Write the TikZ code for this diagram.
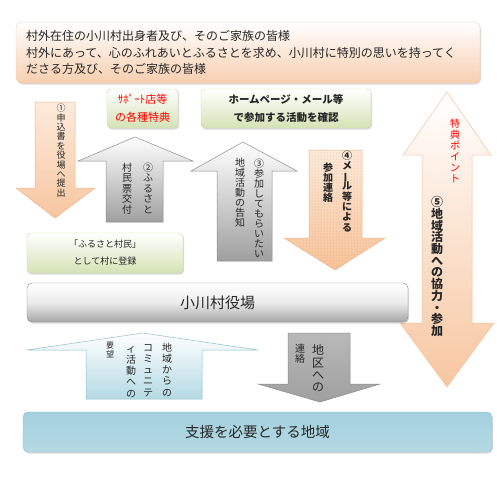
\documentclass[tikz,border=0pt]{standalone}
\usepackage{fontspec}
\usepackage{graphicx}
\setmainfont{Noto Sans CJK JP}
\usetikzlibrary{shadows,patterns}
\definecolor{peach}{HTML}{F7C6A0}
\definecolor{peachL}{HTML}{FDEBDC}
\definecolor{peachB}{HTML}{F0B488}
\definecolor{grnF}{HTML}{D5E3B5}
\definecolor{grnB}{HTML}{C8D8A8}
\definecolor{grayB}{HTML}{8C8C8C}
\definecolor{blueT}{HTML}{A3D0DD}
\definecolor{blueM}{HTML}{E6F3F6}
\definecolor{blueB}{HTML}{B4DAE4}
\definecolor{blueE}{HTML}{8FBFCC}
\definecolor{txt}{HTML}{262626}
\makeatletter
\newcommand\vtxt[2]{\vbox{\baselineskip=#1\lineskip=0pt\lineskiplimit=-100pt
  \@tfor\vt@c:=#2\do{\hbox to 1em{\hss\vrule height .88em depth .12em width 0pt\vt@c\hss}}}}
\makeatother
\newcommand\vchou{\rotatebox[origin=c]{90}{ー}}
\newcommand\fs[1]{\fontsize{#1}{#1}\selectfont}
\begin{document}
\begin{tikzpicture}[x=1pt,y=-1pt,
  every node/.style={inner sep=0pt,text=txt},
  vcol/.style={anchor=north,inner sep=0pt},
  shad/.style={drop shadow={shadow xshift=1pt,shadow yshift=-1.5pt,opacity=0.3}},
  greenbox/.style={draw=grnB,rounded corners=4pt,top color=white,bottom color=grnF,shad,align=center},
  arrpeach/.style={draw=peachB,line width=0.5pt,top color=peachL,bottom color=peach},
  arrgray/.style={draw=grayB,line width=0.5pt,top color=white,bottom color=gray!75},
  arrblue/.style={draw=blueE,line width=0.5pt,top color=white,bottom color=blueB}]
\useasboundingbox (0,0) rectangle (497,480);

% top box
\node[draw=peachB!70,rounded corners=6pt,top color=white,bottom color=peach!85,shad,
  minimum width=464pt,minimum height=61pt,inner xsep=10pt,text width=444pt,align=left,
  font=\fontsize{12}{16.5}\selectfont] (top) at (248,52.5)
  {村外在住の小川村出身者及び、そのご家族の皆様\\村外にあって、心のふれあいとふるさとを求め、小川村に特別の思いを持ってく\\ださる方及び、そのご家族の皆様};

% green boxes
\node[greenbox,minimum width=71pt,minimum height=39pt,text=red,font=\fontsize{11}{18}\selectfont] (sup) at (142.5,108.5) {ｻﾎﾟｰﾄ店等\\の各種特典};
\node[greenbox,minimum width=170pt,minimum height=39pt,font=\bfseries\fontsize{10.5}{17.5}\selectfont] (hp) at (286,108.5) {ホームページ・メール等\\で参加する活動を確認};
\node[greenbox,minimum width=156pt,minimum height=40pt,font=\fontsize{9}{17}\selectfont] (reg) at (105,253) {「ふるさと村民」\\として村に登録};

% arrow 1 (down)
\path[arrpeach] (35,102)--(75,102)--(75,188)--(95,188)--(55,218)--(16,188)--(35,188)--cycle;
% arrow 2 (up)
\path[arrgray] (106,222)--(106,161)--(78,161)--(135,137)--(193,161)--(163,161)--(163,222)--cycle;
% arrow 3 (up)
\path[arrgray] (217,261)--(217,171)--(191,171)--(243,142)--(297,171)--(272,171)--(272,261)--cycle;
% arrow 4 (down)
\path[arrpeach,top color=peachL,bottom color=peach!95!orange] (309,150)--(362,150)--(362,238)--(385,238)--(335,270)--(284,238)--(309,238)--cycle;
\path[pattern=dots,pattern color=peachB!80!brown] (309,150)--(362,150)--(362,238)--(385,238)--(335,270)--(284,238)--(309,238)--cycle;
% arrow 5 (double)
\path[draw=peachB!80,line width=0.5pt,top color=white,bottom color=peach] (447,92)--(491,155)--(472,155)--(472,323)--(494,323)--(447,387)--(400,323)--(422,323)--(422,155)--(403,155)--cycle;

% office box
\node[draw=grayB,rounded corners=5pt,top color=white,bottom color=gray!70,middle color=gray!15,shad,
  minimum width=381pt,minimum height=39pt,font=\fs{15}] (office) at (217.5,302.5) {小川村役場};

% blue arrow (up)
\path[arrblue] (86,399)--(86,350)--(27,350)--(143,333)--(258,350)--(202,350)--(202,399)--cycle;
% gray arrow (down)
\path[draw=grayB,line width=0.5pt,top color=gray!55,middle color=white,bottom color=gray!75] (288,333)--(350,333)--(350,384)--(380,384)--(320,402)--(258,384)--(288,384)--cycle;

% region box
\node[draw=blueE,rounded corners=5pt,top color=blueT,middle color=blueM,bottom color=blueB,shad,
  minimum width=469pt,minimum height=40pt,font=\fs{14.5}] (region) at (257.5,432) {支援を必要とする地域};

% vertical texts
\node[vcol,font=\fs{9}] (t1) at (61,103.5) {\vtxt{9.4pt}{①申込書を役場へ提出}};
\node[vcol,font=\fs{10}] (t2r) at (148,162) {\vtxt{10.5pt}{②ふるさと}};
\node[vcol,font=\fs{10}] (t2l) at (127,162) {\vtxt{10.5pt}{村民票交付}};
\node[vcol,font=\fs{10}] (t3r) at (259,158) {\vtxt{10pt}{③参加してもらいたい}};
\node[vcol,font=\fs{10}] (t3l) at (240,157) {\vtxt{10pt}{地域活動の告知}};
\node[vcol,font=\bfseries\fs{10}] (t4r) at (347,150) {\vtxt{10.3pt}{④メ{\vchou}ル等による}};
\node[vcol,font=\bfseries\fs{10}] (t4l) at (328,162) {\vtxt{10pt}{参加連絡}};
\node[vcol,font=\fs{10},text=red] (t5p) at (455,118) {\vtxt{11pt}{特典ポイント}};
\node[vcol,font=\bfseries\fs{12}] (t5) at (437,196) {\vtxt{11.7pt}{⑤地域活動への協力・参加}};
\node[vcol,font=\fs{10}] (b1) at (167,342) {\vtxt{11.3pt}{地域からの}};
\node[vcol,font=\fs{10}] (b2) at (148,342) {\vtxt{11.3pt}{コミュニテ}};
\node[vcol,font=\fs{10}] (b3) at (131,343) {\vtxt{11.3pt}{ィ活動への}};
\node[vcol,font=\fs{8}] (b4) at (110,341) {\vtxt{9pt}{要望}};
\node[vcol,font=\fs{12}] (c1) at (318,344) {\vtxt{12.3pt}{地区への}};
\node[vcol,font=\fs{10}] (c2) at (300,343) {\vtxt{10pt}{連絡}};
\end{tikzpicture}
\end{document}
